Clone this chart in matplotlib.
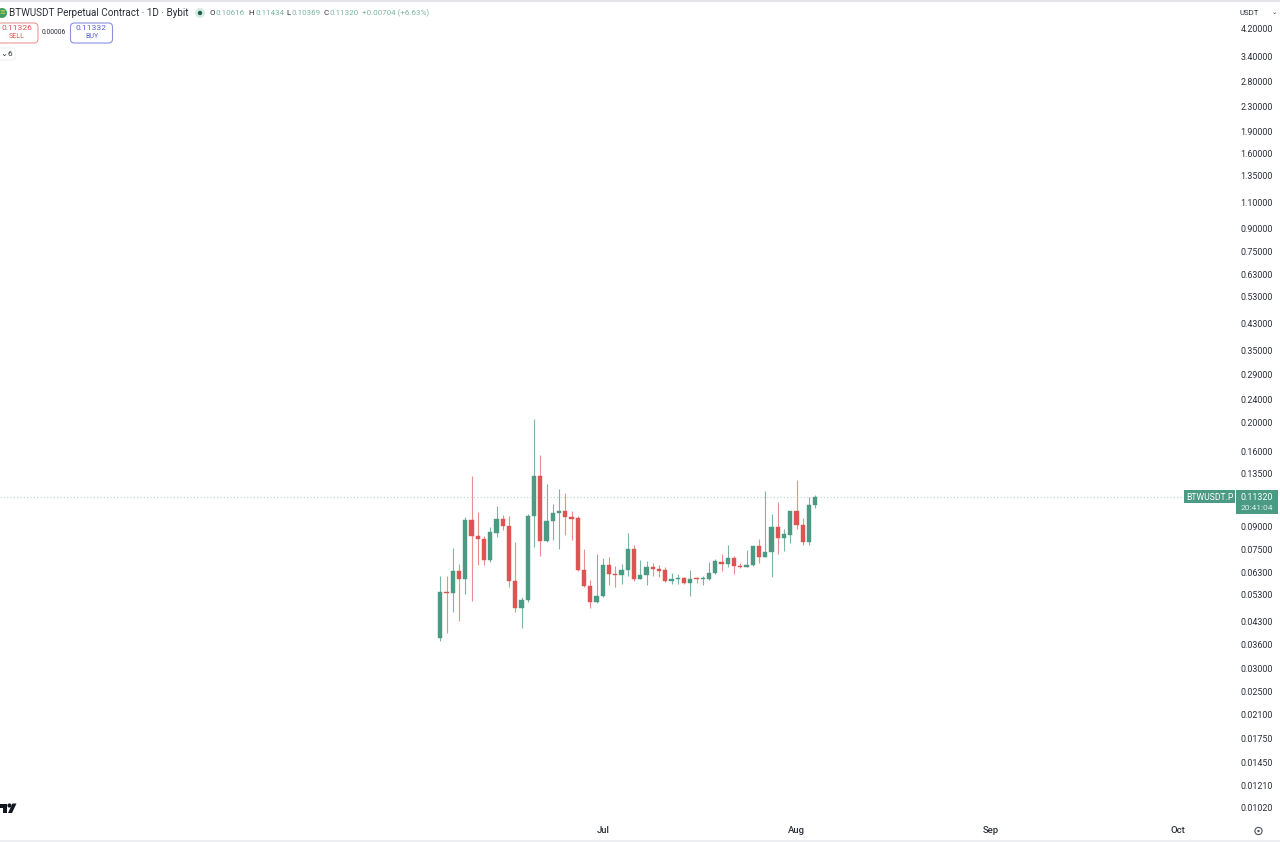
#!/usr/bin/env python3
import numpy as np, pandas as pd
import matplotlib; matplotlib.use('Agg')
import matplotlib.pyplot as plt
import matplotlib.dates as mdates
from matplotlib.patches import FancyBboxPatch, Rectangle, Circle, Polygon

plt.rcParams['font.family']=['Roboto','DejaVu Sans']

first_day='2025-06-05'
opens=[.03791,.0541,.05368,.06362,.05997,.0944,.08363,.08172,.06947,.08558,.0949,.09035,.05889,.04782,.05087,.09735,
       .1323,.08005,.09344,.09936,.1009,.09686,.09587,.0643,.05666,.04997,.05246,.06682,.06218,.06185,.06416,.07527,
       .06003,.06173,.06584,.06465,.064,.05895,.05987,.06034,.05805,.06019,.05987,.05972,.06269,.06844,.0672,.0704,
       .06634,.06584,.06652,.07723,.07094,.07374,.08969,.0822,.0843,.101,.09083,.07987,.10616]
highs=[.06123,.06123,.07621,.067,.09636,.133,.1004,.08342,.08966,.1049,.09785,.0971,.07964,.05218,.09885,.2066,
       .1556,.1243,.1068,.1196,.116,.1009,.09735,.07544,.05936,.07239,.07018,.0709,.06613,.06735,.0856,.07804,
       .06932,.06861,.06755,.06686,.06584,.06252,.0622,.06095,.06416,.06095,.06126,.06826,.06968,.07261,.07804,.07149,
       .06755,.07488,.07723,.08176,.1184,.0989,.1085,.08786,.1012,.1286,.09589,.1125,.11434]
lows=[.03713,.0393,.04634,.04334,.05328,.05061,.06647,.06682,.06839,.083,.08737,.05637,.04634,.04095,.05023,.0768,
      .07146,.07964,.08088,.07564,.08428,.08088,.06346,.05609,.04794,.04959,.05218,.05695,.05637,.05754,.06126,.0591,
      .05972,.057,.06126,.06095,.05849,.05759,.05759,.05759,.05248,.0579,.057,.05941,.06237,.06383,.0655,.0622,
      .06516,.0655,.06618,.0679,.07076,.06065,.07261,.0745,.07926,.0883,.07764,.07804,.10369]
closes=[.0541,.05368,.06362,.05997,.0944,.08363,.08151,.06947,.0858,.0949,.09035,.05874,.04782,.05101,.0976,.1323,
        .08005,.09344,.09963,.1012,.0966,.09538,.06395,.05651,.04997,.0526,.06682,.06218,.06185,.0643,.07527,.06003,
        .06173,.06584,.06448,.06383,.05895,.05987,.06049,.05805,.05972,.05987,.06019,.06269,.06861,.0672,.0704,.06601,
        .06568,.06686,.07723,.07094,.07392,.08969,.08241,.08452,.101,.09083,.07987,.1058,.1132]

price_ticks=[4.2,3.4,2.8,2.3,1.9,1.6,1.35,1.1,.9,.75,.63,.53,.43,.35,.29,.24,.2,.16,.135,
             .09,.075,.063,.053,.043,.036,.03,.025,.021,.0175,.0145,.0121,.0102]
month_ticks=['2025-07-01','2025-08-01','2025-09-01','2025-10-01']
month_labels=['Jul','Aug','Sep','Oct']
last_price=.1132

GREEN='#4b9a83'; RED='#dd5452'
GREEN_W='#7cb5a3'; RED_W='#e98f8d'
TXT='#2a2e39'
W,H=1280,842

fig=plt.figure(figsize=(W/100,H/100),dpi=100,facecolor='white')
ax=fig.add_axes([0,(H-820)/H,1235/W,(820-4)/H])

days=mdates.date2num(pd.date_range(first_day,periods=len(opens)))
o,h,l,c=map(np.array,(opens,highs,lows,closes))
up=c>=o
ax.vlines(days,l,h,colors=[GREEN_W if u else RED_W for u in up],lw=0.8,zorder=2)
ax.bar(days,np.abs(c-o),bottom=np.minimum(o,c),width=0.66,color=[GREEN if u else RED for u in up],
       edgecolor=[GREEN if u else RED for u in up],lw=0.3,zorder=3)
ax.axhline(last_price,xmax=1184/1235,color='#b5d8cd',lw=0.8,ls=(0,(1,2)),zorder=1)

# log scale: 297.9 px per decade, 4.2 sits at y=29 and Jun 5 at x=440.3
ax.set_yscale('log')
ax.set_ylim(4.2*10**((29-820)/297.9),4.2*10**((29-4)/297.9))
x0=days[0]-440.3/6.25
ax.set_xlim(x0,x0+1235/6.25)
ax.yaxis.tick_right()
ax.set_yticks(price_ticks)
ax.set_yticklabels([f'{t:.5f}' for t in price_ticks],fontsize=6.4,color=TXT)
ax.minorticks_off()
ax.set_xticks(mdates.date2num(pd.to_datetime(month_ticks)))
ax.set_xticklabels(month_labels,fontsize=6.8,color=TXT,fontweight='medium')
ax.tick_params(axis='y',length=0,pad=4)
ax.tick_params(axis='x',length=0,pad=4.5)
for s in ax.spines.values(): s.set_visible(False)

# tradingview chrome in pixel coordinates
ov=fig.add_axes([0,0,1,1]); ov.set_xlim(0,W); ov.set_ylim(H,0); ov.axis('off'); ov.patch.set_alpha(0)
ov.add_patch(Rectangle((0,0),W,2,color='#e3e4e8',lw=0))
ov.add_patch(Rectangle((0,840),W,2,color='#eceef2',lw=0))
ov.add_patch(Circle((2,13),5,color='#3f9c5e',lw=0))
ov.text(2,13,'≡',fontsize=5,color='#e8d44d',ha='center',va='center')
ov.text(9,13,'BTWUSDT Perpetual Contract · 1D · Bybit',fontsize=7.1,color=TXT,va='center')
ov.add_patch(Circle((200,13),5,color='#d5ebe4',lw=0))
ov.add_patch(Circle((200,13),2.2,color='#1f5f4c',lw=0))
cursor=[(210,'O',TXT),(216,'0.10616',GREEN_W),(248.5,'H',TXT),(255,'0.11434',GREEN_W),
        (286.5,'L',TXT),(292,'0.10369',GREEN_W),(323,'C',TXT),(329,'0.11320',GREEN_W),
        (362,'+0.00704 (+6.63%)',GREEN_W)]
for x,t,col in cursor:
    ov.text(x,13,t,fontsize=5.8,color=col,va='center')
ov.add_patch(FancyBboxPatch((-3,23),41,20,boxstyle='round,pad=0,rounding_size=4',fc='white',ec='#e79a98',lw=0.8))
ov.text(17,28.5,'0.11326',fontsize=6.1,color=RED,ha='center',va='center')
ov.text(17,37,'SELL',fontsize=5.1,color=RED,ha='center',va='center')
ov.text(54,32.5,'0.00006',fontsize=4.9,color=TXT,ha='center',va='center')
ov.add_patch(FancyBboxPatch((70.5,23),42,20,boxstyle='round,pad=0,rounding_size=4',fc='white',ec='#8b90e0',lw=0.8))
ov.text(91.5,28.5,'0.11332',fontsize=6.1,color='#5b62d6',ha='center',va='center')
ov.text(91.5,37,'BUY',fontsize=5.1,color='#5b62d6',ha='center',va='center')
ov.add_patch(FancyBboxPatch((-3,48),18,12,boxstyle='round,pad=0,rounding_size=2',fc='white',ec='#eceef2',lw=0.7))
ov.text(0.5,53,'⌄',fontsize=6,color=TXT,ha='left',va='center',family='DejaVu Sans')
ov.text(10,54,'6',fontsize=6,color=TXT,ha='center',va='center')
ov.text(1239,13,'USDT',fontsize=5.6,color=TXT,va='center')
ov.text(1274,12,'⌄',fontsize=4.6,color=TXT,ha='center',va='center',family='DejaVu Sans')
ov.add_patch(Rectangle((1184,490),51,13,color=GREEN,lw=0))
ov.add_patch(Rectangle((1236,490),42,24,color=GREEN,lw=0))
ov.text(1209.5,497,'BTWUSDT.P',fontsize=6.2,color='white',ha='center',va='center')
ov.text(1257,497,'0.11320',fontsize=6.4,color='white',ha='center',va='center')
ov.text(1257,508,'20:41:04',fontsize=6.1,color='#dcefe9',ha='center',va='center')
# tradingview logo, cut by the left edge
ov.add_patch(Polygon([(0,803.5),(7,803.5),(7,813),(3,813),(3,807.5),(0,807.5)],fc='#131722',lw=0))
ov.add_patch(Circle((9.5,805.5),2.1,fc='#131722',lw=0))
ov.add_patch(Polygon([(12.5,803.5),(16.5,803.5),(12,813),(8,813)],fc='#131722',lw=0))
ov.add_patch(Circle((1258.5,831),3.6,fc='white',ec='#50535e',lw=0.8))
ov.add_patch(Circle((1258.5,831),1.2,fc='#50535e',lw=0))

fig.savefig('out.png',dpi=100)
